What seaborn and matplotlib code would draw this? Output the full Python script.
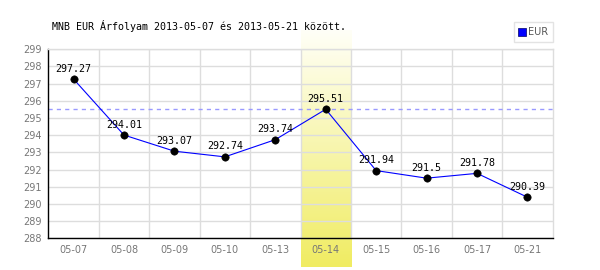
import numpy as np
import pandas as pd
import matplotlib
matplotlib.use("Agg")
import matplotlib.pyplot as plt
from matplotlib.lines import Line2D
import seaborn as sns

dates = ["05-07", "05-08", "05-09", "05-10", "05-13", "05-14", "05-15", "05-16", "05-17", "05-21"]
values = [297.27, 294.01, 293.07, 292.74, 293.74, 295.51, 291.94, 291.5, 291.78, 290.39]
value_labels = ["297.27", "294.01", "293.07", "292.74", "293.74", "295.51", "291.94", "291.5", "291.78", "290.39"]
highlight_date = "05-14"
ref_level = 295.51
y_ticks = list(range(288, 300))
title = "MNB EUR Árfolyam 2013-05-07 és 2013-05-21 között."
series_name = "EUR"

sns.set_theme(style="white")
plt.rcParams['font.family'] = ['DejaVu Sans']

df = pd.DataFrame({"pos": np.arange(len(dates)), "value": values})

fig = plt.figure(figsize=(6, 2.7), dpi=100, facecolor="white")
ax = fig.add_axes([48.3/600, 1-238.3/270, (552.7-48.3)/600, (238.3-49.3)/270])
ax.set_facecolor("none")
ax.set_zorder(2)

ax.set_xlim(-0.5, len(dates) - 0.5)
ax.set_ylim(y_ticks[0], y_ticks[-1])

# highlight column (gradient) behind the plot
hi = dates.index(highlight_date)
p0 = fig.transFigure.inverted().transform(ax.transData.transform((hi - 0.5, 0)))
p1 = fig.transFigure.inverted().transform(ax.transData.transform((hi + 0.5, 0)))
y_top = 1 - 30/270
y_bot = 1 - 267/270
hax = fig.add_axes([p0[0], y_bot, p1[0]-p0[0], y_top - y_bot])
hax.set_zorder(1)
hax.axis("off")
grad = np.linspace(0, 1, 256).reshape(-1, 1)
top_c = np.array([1.0, 1.0, 0.97])
bot_c = np.array([0xf0, 0xec, 0x62]) / 255
img = top_c[None, None, :] * (1 - grad[:, :, None]) + bot_c[None, None, :] * grad[:, :, None]
hax.imshow(img, aspect="auto", extent=[0, 1, 0, 1], origin="upper")
hax.set_xlim(0, 1); hax.set_ylim(0, 1)

# grid
ax.set_yticks(y_ticks)
ax.set_xticks(df["pos"])
ax.set_xticks(np.arange(len(dates) - 1) + 0.5, minor=True)
ax.set_xticklabels(dates)
ax.grid(False)
ax.grid(True, axis="y", which="major", color="#dddddd", lw=1)
ax.grid(True, axis="x", which="minor", color="#dddddd", lw=1)
ax.tick_params(which="both", length=0)
ax.tick_params(axis="y", pad=4.5, labelsize=7, labelcolor="#777777")
ax.tick_params(axis="x", pad=4.5, labelsize=7, labelcolor="#777777")

for s in ["top", "right"]:
    ax.spines[s].set_color("#dddddd")
    ax.spines[s].set_linewidth(1)
for s in ["left", "bottom"]:
    ax.spines[s].set_color("black")
    ax.spines[s].set_linewidth(1)

ax.axhline(ref_level, color="#9999ff", lw=1, dashes=(3, 3), zorder=2)

sns.lineplot(data=df, x="pos", y="value", ax=ax, color="#0000ff", lw=0.8, zorder=3, legend=False)
sns.scatterplot(data=df, x="pos", y="value", ax=ax, color="black", s=28, edgecolor="black", zorder=4, legend=False)
ax.set_xlabel("")
ax.set_ylabel("")
ax.set_xlim(-0.5, len(dates) - 0.5)
ax.set_ylim(y_ticks[0], y_ticks[-1])

for x, v, lab in zip(df["pos"], values, value_labels):
    ax.annotate(lab, (x, v), xytext=(0, 10.5), textcoords="offset pixels",
                ha="center", va="center", fontsize=7.2, family="DejaVu Sans Mono",
                color="black", zorder=5)

fig.text(52/600, 1 - 26.5/270, title, ha="left", va="center",
         fontsize=7.2, family="DejaVu Sans Mono", color="black")

handle = Line2D([], [], marker="s", linestyle="none", markersize=5.5,
                markerfacecolor="#0000ff", markeredgecolor="#000066", markeredgewidth=0.5)
leg = ax.legend([handle], [series_name], loc="upper right",
                bbox_to_anchor=(552.7/600, 1 - 22.3/270), bbox_transform=fig.transFigure,
                borderaxespad=0, frameon=True, fancybox=False, fontsize=7,
                handlelength=0.6, handletextpad=0.3, borderpad=0.5)
leg.get_frame().set_edgecolor("#dddddd")
leg.get_frame().set_linewidth(1)
for t in leg.get_texts():
    t.set_color("#555555")

fig.savefig("out.png", dpi=100, facecolor="white")
